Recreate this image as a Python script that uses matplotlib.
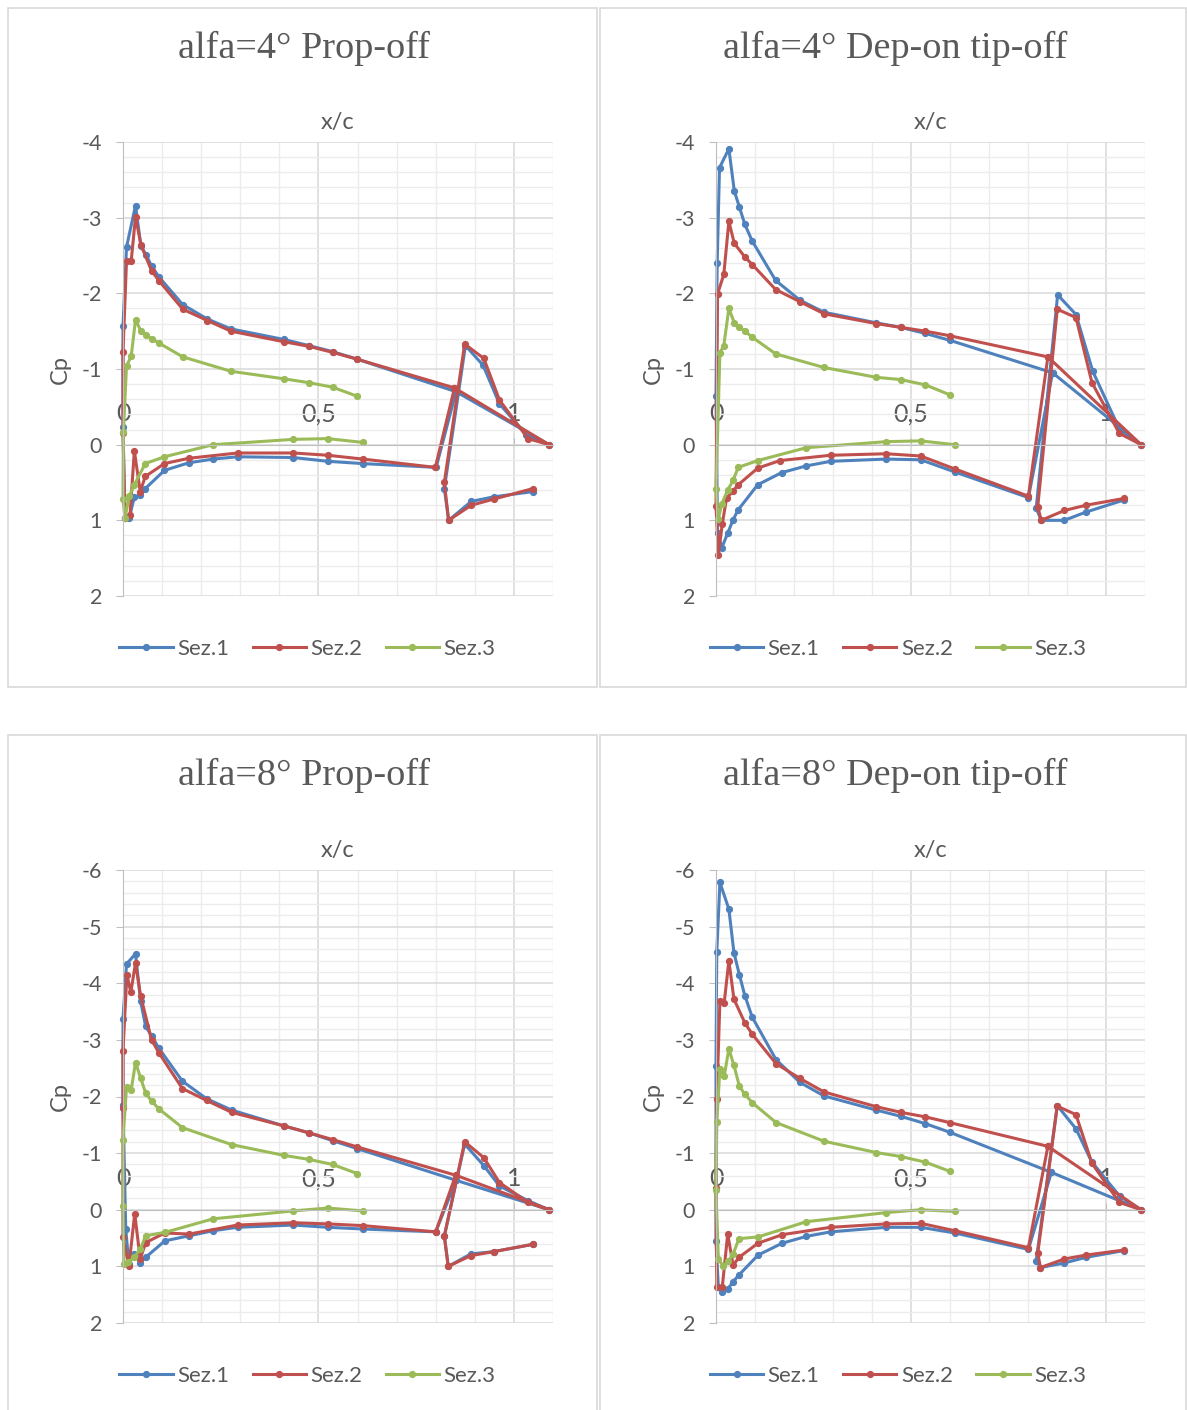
import matplotlib
matplotlib.use('Agg')
import matplotlib.pyplot as plt
from matplotlib.patches import Rectangle
from matplotlib.ticker import MultipleLocator

plt.rcParams['axes.unicode_minus'] = False

W, H = 1187, 1410

# Cp tap data, one polyline per section: flap lower -> flap upper -> TE -> main upper -> LE -> main lower
# alfa=4 prop-off
a4_off_s1_x = [1.049, 0.948, 0.891, 0.833, 0.822, 0.876, 0.921, 0.963, 1.032, 1.090, 0.852,
               0.599, 0.536, 0.475, 0.412, 0.276, 0.216, 0.153, 0.093, 0.073, 0.059, 0.046, 0.032, 0.009, 0.0, 0.0,
               0.005, 0.016, 0.029, 0.044, 0.057, 0.106, 0.168, 0.231, 0.293, 0.436, 0.524, 0.613, 0.801, 0.852]
a4_off_s1_cp = [0.62, 0.69, 0.75, 1.0, 0.58, -1.31, -1.05, -0.54, -0.13, 0.0, -0.70,
                -1.13, -1.23, -1.31, -1.39, -1.53, -1.66, -1.85, -2.21, -2.36, -2.51, -2.62, -3.16, -2.61, -1.57, -0.23,
                0.97, 0.97, 0.69, 0.67, 0.58, 0.34, 0.24, 0.19, 0.16, 0.17, 0.22, 0.25, 0.30, -0.70]
a4_off_s2_x = [1.049, 0.948, 0.891, 0.833, 0.822, 0.874, 0.923, 0.963, 1.036, 1.090, 0.848,
               0.599, 0.536, 0.475, 0.412, 0.276, 0.216, 0.153, 0.093, 0.073, 0.046, 0.032, 0.021, 0.009, 0.0, 0.0,
               0.005, 0.018, 0.029, 0.044, 0.057, 0.106, 0.168, 0.293, 0.436, 0.524, 0.613, 0.799, 0.848]
a4_off_s2_cp = [0.58, 0.72, 0.80, 1.0, 0.50, -1.33, -1.14, -0.59, -0.08, 0.0, -0.75,
                -1.13, -1.22, -1.30, -1.36, -1.50, -1.64, -1.79, -2.16, -2.30, -2.64, -3.01, -2.43, -2.43, -1.23, -0.16,
                0.97, 0.93, 0.08, 0.62, 0.42, 0.25, 0.18, 0.11, 0.11, 0.14, 0.19, 0.30, -0.75]
a4_off_s3_x = [0.599, 0.536, 0.475, 0.412, 0.276, 0.153, 0.093, 0.073, 0.059, 0.046, 0.032, 0.021, 0.009, 0.001, 0.0,
               0.005, 0.016, 0.029, 0.057, 0.106, 0.231, 0.436, 0.524, 0.613]
a4_off_s3_cp = [-0.64, -0.76, -0.82, -0.87, -0.97, -1.16, -1.34, -1.40, -1.45, -1.50, -1.65, -1.17, -1.04, -0.17, 0.72,
                0.97, 0.68, 0.53, 0.25, 0.16, 0.0, -0.07, -0.08, -0.03]

# alfa=4 dep-on tip-off
a4_on_s1_x = [1.047, 0.949, 0.893, 0.834, 0.821, 0.876, 0.923, 0.966, 1.035, 1.090, 0.863,
              0.599, 0.537, 0.474, 0.411, 0.277, 0.215, 0.153, 0.093, 0.074, 0.060, 0.047, 0.033, 0.009, 0.003, 0.0,
              0.004, 0.015, 0.030, 0.044, 0.057, 0.107, 0.168, 0.232, 0.294, 0.437, 0.525, 0.612, 0.801, 0.863]
a4_on_s1_cp = [0.73, 0.89, 1.0, 1.0, 0.84, -1.98, -1.72, -0.97, -0.20, 0.0, -0.95,
               -1.38, -1.47, -1.55, -1.61, -1.75, -1.91, -2.17, -2.69, -2.91, -3.14, -3.35, -3.91, -3.66, -2.40, -0.64,
               1.17, 1.36, 1.17, 0.99, 0.86, 0.53, 0.37, 0.28, 0.22, 0.19, 0.20, 0.36, 0.70, -0.95]
a4_on_s2_x = [1.047, 0.949, 0.893, 0.834, 0.825, 0.875, 0.923, 0.964, 1.034, 1.090, 0.851,
              0.599, 0.537, 0.474, 0.411, 0.277, 0.215, 0.153, 0.093, 0.074, 0.047, 0.033, 0.020, 0.004, 0.0,
              0.006, 0.016, 0.027, 0.044, 0.057, 0.107, 0.164, 0.294, 0.437, 0.525, 0.612, 0.801, 0.851]
a4_on_s2_cp = [0.71, 0.80, 0.87, 1.0, 0.82, -1.79, -1.68, -0.82, -0.15, 0.0, -1.16,
               -1.44, -1.50, -1.55, -1.60, -1.73, -1.89, -2.05, -2.38, -2.48, -2.66, -2.95, -2.25, -1.99, 0.81,
               1.46, 1.05, 0.71, 0.61, 0.53, 0.31, 0.21, 0.14, 0.12, 0.15, 0.32, 0.68, -1.16]
a4_on_s3_x = [0.599, 0.537, 0.474, 0.411, 0.277, 0.153, 0.093, 0.074, 0.060, 0.047, 0.033, 0.020, 0.010, 0.0,
              0.006, 0.015, 0.030, 0.044, 0.057, 0.107, 0.232, 0.437, 0.525, 0.612]
a4_on_s3_cp = [-0.66, -0.79, -0.86, -0.89, -1.02, -1.20, -1.42, -1.50, -1.55, -1.61, -1.80, -1.31, -1.21, 0.59,
               0.98, 0.78, 0.60, 0.47, 0.30, 0.21, 0.04, -0.04, -0.05, 0.0]

# alfa=8 prop-off
a8_off_s1_x = [1.049, 0.948, 0.890, 0.832, 0.822, 0.874, 0.923, 0.963, 1.036, 1.090, 0.852,
               0.599, 0.536, 0.475, 0.412, 0.278, 0.214, 0.152, 0.092, 0.073, 0.058, 0.045, 0.032, 0.009, 0.0, 0.0,
               0.007, 0.015, 0.028, 0.044, 0.058, 0.107, 0.169, 0.231, 0.293, 0.436, 0.524, 0.613, 0.800, 0.852]
a8_off_s1_cp = [0.61, 0.74, 0.78, 1.0, 0.46, -1.16, -0.78, -0.42, -0.16, 0.0, -0.52,
                -1.08, -1.22, -1.36, -1.48, -1.76, -1.96, -2.27, -2.85, -3.07, -3.24, -3.68, -4.52, -4.34, -3.37, -1.85,
                0.34, 0.96, 0.78, 0.94, 0.84, 0.55, 0.46, 0.37, 0.31, 0.27, 0.31, 0.34, 0.39, -0.52]
a8_off_s2_x = [1.049, 0.948, 0.890, 0.832, 0.822, 0.874, 0.923, 0.963, 1.036, 1.090, 0.851,
               0.599, 0.536, 0.475, 0.412, 0.278, 0.214, 0.152, 0.092, 0.073, 0.045, 0.032, 0.020, 0.010, 0.0, 0.0,
               0.0, 0.015, 0.030, 0.044, 0.058, 0.107, 0.169, 0.293, 0.436, 0.524, 0.613, 0.800, 0.851]
a8_off_s2_cp = [0.61, 0.74, 0.81, 1.0, 0.47, -1.20, -0.92, -0.48, -0.13, 0.0, -0.61,
                -1.11, -1.24, -1.36, -1.48, -1.72, -1.93, -2.14, -2.77, -3.00, -3.78, -4.36, -3.84, -4.15, -2.81, -1.80,
                0.49, 1.0, 0.07, 0.87, 0.58, 0.41, 0.43, 0.27, 0.23, 0.25, 0.28, 0.39, -0.61]
a8_off_s3_x = [0.599, 0.536, 0.475, 0.412, 0.278, 0.152, 0.092, 0.073, 0.058, 0.045, 0.032, 0.021, 0.009, 0.0, 0.0,
               0.002, 0.014, 0.028, 0.044, 0.058, 0.107, 0.231, 0.436, 0.524, 0.613]
a8_off_s3_cp = [-0.64, -0.80, -0.89, -0.96, -1.15, -1.45, -1.78, -1.92, -2.06, -2.33, -2.60, -2.12, -2.16, -1.24, -0.07,
                0.96, 0.93, 0.84, 0.70, 0.46, 0.40, 0.16, 0.02, -0.03, 0.02]

# alfa=8 dep-on tip-off
a8_on_s1_x = [1.047, 0.949, 0.893, 0.832, 0.821, 0.875, 0.923, 0.963, 1.035, 1.090, 0.860,
              0.599, 0.537, 0.474, 0.411, 0.277, 0.215, 0.154, 0.093, 0.074, 0.060, 0.046, 0.033, 0.010, 0.002, 0.0,
              0.0, 0.006, 0.016, 0.030, 0.044, 0.059, 0.108, 0.170, 0.232, 0.294, 0.437, 0.525, 0.612, 0.801, 0.860]
a8_on_s1_cp = [0.72, 0.84, 0.94, 1.02, 0.90, -1.84, -1.43, -0.85, -0.24, 0.0, -0.66,
               -1.37, -1.52, -1.65, -1.76, -2.01, -2.25, -2.65, -3.40, -3.78, -4.15, -4.54, -5.31, -5.78, -4.55, -2.53,
               0.55, 1.37, 1.45, 1.40, 1.27, 1.15, 0.80, 0.59, 0.47, 0.39, 0.31, 0.31, 0.41, 0.70, -0.66]
a8_on_s2_x = [1.047, 0.949, 0.893, 0.832, 0.825, 0.875, 0.923, 0.964, 1.034, 1.090, 0.851,
              0.599, 0.537, 0.474, 0.411, 0.277, 0.215, 0.154, 0.093, 0.074, 0.046, 0.033, 0.021, 0.010, 0.002, 0.0,
              0.002, 0.016, 0.030, 0.044, 0.059, 0.108, 0.170, 0.294, 0.437, 0.525, 0.612, 0.801, 0.851]
a8_on_s2_cp = [0.71, 0.80, 0.87, 1.02, 0.77, -1.83, -1.68, -0.82, -0.13, 0.0, -1.12,
               -1.54, -1.64, -1.72, -1.82, -2.08, -2.32, -2.58, -3.10, -3.30, -3.72, -4.40, -3.65, -3.68, -1.95, -0.39,
               1.37, 1.37, 0.43, 0.98, 0.84, 0.59, 0.44, 0.31, 0.25, 0.24, 0.37, 0.67, -1.12]
a8_on_s3_x = [0.599, 0.537, 0.474, 0.411, 0.277, 0.154, 0.093, 0.074, 0.060, 0.046, 0.033, 0.021, 0.010, 0.002, 0.0,
              0.006, 0.019, 0.032, 0.044, 0.059, 0.108, 0.232, 0.437, 0.525, 0.612]
a8_on_s3_cp = [-0.68, -0.84, -0.94, -1.01, -1.21, -1.54, -1.89, -2.04, -2.18, -2.55, -2.84, -2.36, -2.49, -1.55, -0.34,
               0.87, 1.0, 0.90, 0.78, 0.51, 0.48, 0.21, 0.05, 0.0, 0.03]

series_names = ['Sez.1', 'Sez.2', 'Sez.3']
colors = ['#4F81BD', '#C0504D', '#9BBB59']
x_ticks = [0, 0.5, 1]
x_tick_labels = ['0', '0,5', '1']

panels = [
    ('alfa=4° Prop-off', [(a4_off_s1_x, a4_off_s1_cp), (a4_off_s2_x, a4_off_s2_cp), (a4_off_s3_x, a4_off_s3_cp)], (-4, 2)),
    ('alfa=4° Dep-on tip-off', [(a4_on_s1_x, a4_on_s1_cp), (a4_on_s2_x, a4_on_s2_cp), (a4_on_s3_x, a4_on_s3_cp)], (-4, 2)),
    ('alfa=8° Prop-off', [(a8_off_s1_x, a8_off_s1_cp), (a8_off_s2_x, a8_off_s2_cp), (a8_off_s3_x, a8_off_s3_cp)], (-6, 2)),
    ('alfa=8° Dep-on tip-off', [(a8_on_s1_x, a8_on_s1_cp), (a8_on_s2_x, a8_on_s2_cp), (a8_on_s3_x, a8_on_s3_cp)], (-6, 2)),
]

TXT = '#595959'
SANS = ['Lato', 'DejaVu Sans']

# pixel layout of each chart: frame box, plot area box (left, top, right, bottom)
frames = [(8, 8, 597, 687), (600, 8, 1186, 687), (8, 735, 597, 1420), (600, 735, 1186, 1420)]
plot_boxes = [(123, 142, 553, 596), (716, 142, 1145, 596), (123, 870, 553, 1323), (716, 870, 1145, 1323)]


def fx(px):
    return px / W


def fy(py):
    return 1 - py / H


def draw_panel(fig, title, data, ylims, frame, box):
    fl, ft, fr, fb = frame
    fig.add_artist(Rectangle((fx(fl), fy(fb)), fx(fr - fl), (fb - ft) / H, transform=fig.transFigure,
                             facecolor='white', edgecolor='#d9d9d9', linewidth=1.2, zorder=0))
    cx = (fl + fr) / 2
    fig.text(fx(cx + 2), fy(48 + ft - 8), title, ha='center', va='center', fontsize=27.5,
             family='Liberation Serif', color=TXT)

    l, t, r, b = box
    ax = fig.add_axes([fx(l), fy(b), fx(r - l), (b - t) / H])
    ax.patch.set_alpha(0)

    for (xs, cps), name, c in zip(data, series_names, colors):
        ax.plot(xs, cps, color=c, lw=2.2, marker='o', ms=4.2, label=name, clip_on=False)

    ax.set_xlim(0, 1.1)
    ax.set_ylim(ylims[1], ylims[0])  # Cp axis reversed

    # gridlines
    ax.xaxis.set_minor_locator(MultipleLocator(0.1))
    ax.yaxis.set_minor_locator(MultipleLocator(0.2))
    ax.set_xticks(x_ticks)
    ax.set_xticklabels(x_tick_labels)
    ax.set_yticks(range(ylims[0], ylims[1] + 1))
    ax.grid(which='minor', color='#ececec', lw=1)
    ax.grid(which='major', color='#d9d9d9', lw=1.1)
    ax.set_axisbelow(True)
    ax.tick_params(which='minor', length=0)

    # horizontal axis sits on Cp = 0 with its labels above
    for s in ['bottom', 'right']:
        ax.spines[s].set_visible(False)
    ax.spines['top'].set_position(('data', 0))
    ax.spines['top'].set_color('#bfbfbf')
    ax.spines['left'].set_color('#bfbfbf')
    ax.xaxis.tick_top()
    ax.tick_params(axis='x', which='major', direction='out', length=5, color='#bfbfbf',
                   labelsize=18, labelcolor=TXT, pad=9)
    ax.tick_params(axis='y', which='major', direction='out', length=5, color='#bfbfbf',
                   labelsize=15.5, labelcolor=TXT, pad=10)
    for lab in ax.get_xticklabels() + ax.get_yticklabels():
        lab.set_family(SANS)

    pcx = (l + r) / 2
    fig.text(fx(pcx), fy(t - 19), 'x/c', ha='center', va='center', fontsize=17, family=SANS, color=TXT)
    fig.text(fx(l - 63), fy((t + b) / 2), 'Cp', ha='center', va='center', rotation=90,
             fontsize=17, family=SANS, color=TXT)

    handles, labels = ax.get_legend_handles_labels()
    leg = fig.legend(handles, labels, loc='center', bbox_to_anchor=(fx(cx + 5), fy(b + 53)), ncol=3,
                     frameon=False, handlelength=2.4, handletextpad=0.2,
                     columnspacing=1.05, numpoints=1, prop={'family': SANS, 'size': 16})
    for txt in leg.get_texts():
        txt.set_color(TXT)
    return ax


fig = plt.figure(figsize=(W / 100, H / 100), dpi=100)
for (title, data, ylims), frame, box in zip(panels, frames, plot_boxes):
    draw_panel(fig, title, data, ylims, frame, box)

fig.savefig('out.png', dpi=100)
